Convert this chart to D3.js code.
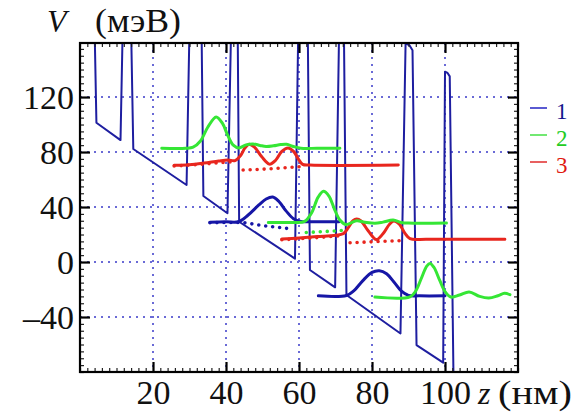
<!DOCTYPE html>
<html>
<head>
<meta charset="utf-8">
<script src="https://cdn.jsdelivr.net/npm/d3@7/dist/d3.min.js"></script>
<style>
  html, body { margin: 0; padding: 0; background: #fff; }
  svg { display: block; }
  text { font-family: "Liberation Serif", "DejaVu Serif", serif; }
</style>
</head>
<body>
<svg id="chart" width="586" height="414"></svg>
<script>
// ---------- data ----------
const zDomain = [0, 120];
const vDomain = [-80, 159.3];
const zTicks = [20, 40, 60, 80, 100];
const vTicks = [-40, 0, 40, 80, 120];
const vTickLabels = ["–40", "0", "40", "80", "120"];

// conduction-band profile (z in nm, V in meV); barrier tops above the frame are clipped
const potentialZ = [0, 4.0, 4.5, 11.1, 11.7, 14.0, 14.6, 29.2, 30.0, 33.3, 33.8, 40.4, 41.4, 43.2, 43.6, 58.9, 59.8, 62.4, 63.0, 69.9, 71.0, 72.3, 73.0, 87.8, 89.2, 90.3, 91.1, 92.2, 99.5, 100.0, 100.7, 101.3, 102.4];
const potentialV = [170, 170, 101.3, 88.7, 170, 170, 82.2, 56, 170, 170, 48, 35.5, 170, 170, 29.3, 2.5, 170, 170, -5.8, -18.4, 170, 170, -24, -52, 159, 157.5, 154, -60.4, -73.2, 138.4, 137.5, 135, -100];

// state 1 (blue)
const psi1Upper = [[35.6,29],[40,29.2],[43.4,29.3],[46,34],[49,41.5],[51,45.8],[52.8,47.3],[54.5,44],[56.5,37],[58.5,31.5],[60.5,29.5],[63,29.3],[71,29.3]];
const psi1UpperDotted = [[35.6,28.6],[43.4,28.8],[50,26.5],[56.6,24.5]];
const psi1Lower = [[65.3,-24.6],[73,-24.4],[75,-21],[77.5,-13.5],[80,-7.5],[82,-6.3],[84,-8.5],[86,-14.5],[88,-21],[90,-24.3],[93,-24.6],[100,-24.6]];

// state 2 (green)
const psi2Upper = [[22.4,82.7],[29,82.7],[31,83.5],[33,88],[35,98],[37.3,105.5],[39,101],[40.5,92],[42,85],[43.5,83],[45.5,85.2],[47.4,85.9],[49.3,84.8],[51,84],[53,84.5],[55,85.4],[56.6,85.6],[58.5,84],[60.5,82.8],[65,82.7],[71.2,82.7]];
const psi2Middle = [[51.6,28.8],[58,28.8],[61.5,29.5],[63.5,36],[65.2,47],[66.7,51.5],[68.2,48],[69.7,38.5],[71.2,30.5],[72.8,27.3],[74.3,28.5],[75.8,30],[78,29],[80.8,28.2],[83,29],[85.8,30.5],[88,28.8],[90,28.3],[100.4,28.3]];
const psi2MiddleDotted = [[62,21.5],[66,22],[72,23]];
const psi2Lower = [[80.8,-25.5],[90.4,-25.3],[92,-21],[93.5,-12],[95,-3],[95.9,-1],[97,-4],[98.5,-13],[100,-21.5],[101.6,-25.5],[104,-24],[106.6,-21.8],[109.5,-25],[112,-26.2],[114.5,-24.5],[116.3,-22.8],[117.8,-23.8]];

// state 3 (red)
const psi3Upper = [[25.8,70.3],[30,70.8],[34,72],[38,73.5],[40.5,74.2],[42.5,73.8],[44,77.5],[45.2,83],[46.3,85.6],[47.8,83.5],[49.8,76.5],[51.9,71.2],[53.6,74],[55.3,80.5],[57,83],[58.5,80.5],[59.8,75],[61,71],[63,70.5],[87.2,70.5]];
const psi3UpperDotted = [[25.8,69.8],[34,71.3],[43,73.2]];
const psi3UpperDotted2 = [[44.7,66.9],[52,67.8],[60.3,69.3]];
const psi3Lower = [[55.3,16.8],[60,17.5],[65,18.5],[70,19.5],[72.1,20.5],[73.5,25],[74.8,30],[75.8,31.2],[77,29.8],[79,22.5],[81.2,16.3],[83,20.5],[84.8,27.5],[86,29.8],[87.5,27.5],[89,21],[90.4,17],[95,16.6],[116.4,16.6]];
const psi3LowerDotted = [[55.3,16.2],[63,17.4],[72,19.2]];
const psi3LowerDotted2 = [[74,14],[81,14.8],[87.7,15.5]];

const legendNames = ["1", "2", "3"];

// ---------- styles ----------
const colPot = "#1e1ea0";
const colBlue = "#1616a6";
const colGreen = "#35e635";
const colRed = "#e8261e";
const colGrid = "#6a6ad6";

// ---------- drawing ----------
const svg = d3.select("#chart");
const L = 80, R = 518, T = 43, B = 372;
const x = d3.scaleLinear().domain(zDomain).range([L, R]);
const y = d3.scaleLinear().domain(vDomain).range([B, T]);

svg.append("defs").append("clipPath").attr("id", "plotClip")
  .append("rect").attr("x", L).attr("y", T).attr("width", R - L).attr("height", B - T);

// grid
const grid = svg.append("g");
grid.selectAll("line.gx").data(zTicks).join("line")
  .attr("x1", d => x(d)).attr("x2", d => x(d)).attr("y1", T).attr("y2", B)
  .attr("stroke", colGrid).attr("stroke-width", 2).attr("stroke-dasharray", "2,5");
grid.selectAll("line.gy").data(vTicks).join("line")
  .attr("x1", L).attr("x2", R).attr("y1", d => y(d)).attr("y2", d => y(d))
  .attr("stroke", colGrid).attr("stroke-width", 2).attr("stroke-dasharray", "2,5");

// plot content
const plot = svg.append("g").attr("clip-path", "url(#plotClip)");
const potPts = potentialZ.map((z, i) => [z, potentialV[i]]);
plot.append("path")
  .attr("d", d3.line().x(d => x(d[0])).y(d => y(d[1]))(potPts))
  .attr("fill", "none").attr("stroke", colPot).attr("stroke-width", 2).attr("stroke-linejoin", "round");

const smooth = d3.line().x(d => x(d[0])).y(d => y(d[1])).curve(d3.curveCatmullRom.alpha(0.5));
const straight = d3.line().x(d => x(d[0])).y(d => y(d[1])).curve(d3.curveMonotoneX);

function dotted(data, color) {
  plot.append("path").attr("d", straight(data))
    .attr("fill", "none").attr("stroke", color).attr("stroke-width", 3.6)
    .attr("stroke-linecap", "round").attr("stroke-dasharray", "0,7");
}
function solid(data, color) {
  plot.append("path").attr("d", smooth(data))
    .attr("fill", "none").attr("stroke", color).attr("stroke-width", 3)
    .attr("stroke-linejoin", "round").attr("stroke-linecap", "round");
}

dotted(psi3UpperDotted, colRed);
dotted(psi3UpperDotted2, colRed);
dotted(psi3LowerDotted, colRed);
dotted(psi3LowerDotted2, colRed);
dotted(psi2MiddleDotted, colGreen);
dotted(psi1UpperDotted, colBlue);

solid(psi3Upper, colRed);
solid(psi2Upper, colGreen);
solid(psi1Upper, colBlue);
solid(psi3Lower, colRed);
solid(psi2Middle, colGreen);
solid(psi1Lower, colBlue);
solid(psi2Lower, colGreen);

// axes (ticks inward on all four sides)
const majorLen = 10, minorLen = 4;
const zMinor = d3.range(zDomain[0], zDomain[1] + 0.001, 2).filter(v => !zTicks.includes(v));
const vMinor = d3.range(-80, 160, 5).filter(v => !vTicks.includes(v));

const axB = svg.append("g").attr("transform", `translate(0,${B})`)
  .call(d3.axisBottom(x).tickValues(zTicks).tickSizeInner(-majorLen).tickSizeOuter(0).tickPadding(14).tickFormat(d3.format("d")));
const axT = svg.append("g").attr("transform", `translate(0,${T})`)
  .call(d3.axisTop(x).tickValues(zTicks).tickSizeInner(-majorLen).tickSizeOuter(0).tickFormat(""));
const axL = svg.append("g").attr("transform", `translate(${L},0)`)
  .call(d3.axisLeft(y).tickValues(vTicks).tickSizeInner(-majorLen).tickSizeOuter(0).tickPadding(8)
    .tickFormat((d, i) => vTickLabels[i]));
const axR = svg.append("g").attr("transform", `translate(${R},0)`)
  .call(d3.axisRight(y).tickValues(vTicks).tickSizeInner(-majorLen).tickSizeOuter(0).tickFormat(""));

const axB2 = svg.append("g").attr("transform", `translate(0,${B})`)
  .call(d3.axisBottom(x).tickValues(zMinor).tickSizeInner(-minorLen).tickSizeOuter(0).tickFormat(""));
const axT2 = svg.append("g").attr("transform", `translate(0,${T})`)
  .call(d3.axisTop(x).tickValues(zMinor).tickSizeInner(-minorLen).tickSizeOuter(0).tickFormat(""));
const axL2 = svg.append("g").attr("transform", `translate(${L},0)`)
  .call(d3.axisLeft(y).tickValues(vMinor).tickSizeInner(-minorLen).tickSizeOuter(0).tickFormat(""));
const axR2 = svg.append("g").attr("transform", `translate(${R},0)`)
  .call(d3.axisRight(y).tickValues(vMinor).tickSizeInner(-minorLen).tickSizeOuter(0).tickFormat(""));

[axB, axT, axL, axR].forEach(a => { a.select(".domain").remove(); a.selectAll(".tick line").attr("stroke", "#000").attr("stroke-width", 2.2); });
[axB2, axT2, axL2, axR2].forEach(a => { a.select(".domain").remove(); a.selectAll(".tick line").attr("stroke", "#222").attr("stroke-width", 1.2); });

axB.selectAll(".tick text").attr("font-family", "'Liberation Serif', serif").attr("font-size", 34)
  .attr("fill", "#111").attr("dy", null).attr("y", 32);
axL.selectAll(".tick text").attr("font-family", "'Liberation Serif', serif").attr("font-size", 34)
  .attr("fill", "#111").attr("x", -6).attr("dy", "0.34em");

// frame
svg.append("rect").attr("x", L).attr("y", T).attr("width", R - L).attr("height", B - T)
  .attr("fill", "none").attr("stroke", "#000").attr("stroke-width", 2.2);

// axis titles
svg.append("text").attr("x", 47).attr("y", 32).attr("font-size", 32).attr("fill", "#111")
  .attr("font-style", "italic").text("V");
svg.append("text").attr("x", 95).attr("y", 32).attr("font-size", 34).attr("fill", "#111")
  .attr("textLength", 86).attr("lengthAdjust", "spacingAndGlyphs").text("(мэВ)");

svg.append("text").attr("x", 478).attr("y", 404).attr("font-size", 32).attr("fill", "#111")
  .attr("font-style", "italic").text("z");
svg.append("text").attr("x", 498).attr("y", 404).attr("font-size", 34).attr("fill", "#111")
  .attr("textLength", 74).attr("lengthAdjust", "spacingAndGlyphs").text("(нм)");

// legend
const legendDash = ["#5a5ad2", "#72e872", "#e86060"];
const legendText = ["#14148e", "#22cc22", "#e01a12"];
const lg = svg.append("g");
legendNames.forEach((n, i) => {
  const cy = 108 + i * 27;
  lg.append("line").attr("x1", 530).attr("x2", 547).attr("y1", cy).attr("y2", cy)
    .attr("stroke", legendDash[i]).attr("stroke-width", 2);
  lg.append("text").attr("x", 556).attr("y", cy + 11).attr("font-size", 23)
    .attr("fill", legendText[i]).text(n);
});
</script>
</body>
</html>
